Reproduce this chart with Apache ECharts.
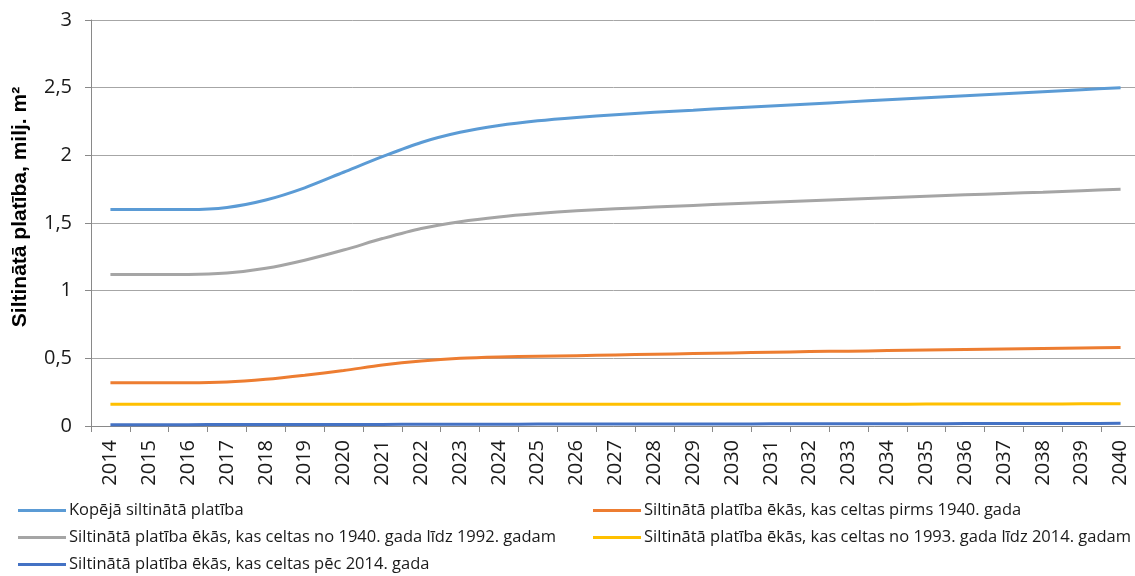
<!DOCTYPE html>
<html>
<head>
<meta charset="utf-8">
<script src="https://cdn.jsdelivr.net/npm/echarts@6/dist/echarts.min.js"></script>
<style>
  html, body { margin: 0; padding: 0; background: #fff; }
  #chart { width: 1135px; height: 576px; }
</style>
</head>
<body>
<div id="chart"></div>
<script>
// Years on the category axis
const years = ['2014','2015','2016','2017','2018','2019','2020','2021','2022','2023','2024','2025','2026','2027','2028','2029','2030','2031','2032','2033','2034','2035','2036','2037','2038','2039','2040'];

// Insulated floor area, million m²
const totalArea = [1.60,1.60,1.60,1.615,1.67,1.76,1.875,1.99,2.095,2.17,2.22,2.255,2.28,2.30,2.318,2.334,2.35,2.365,2.38,2.395,2.41,2.425,2.44,2.455,2.47,2.485,2.50];
const before1940 = [0.32,0.32,0.32,0.325,0.345,0.375,0.41,0.45,0.48,0.50,0.51,0.515,0.52,0.525,0.53,0.535,0.54,0.545,0.55,0.553,0.557,0.561,0.565,0.569,0.573,0.577,0.58];
const from1940to1992 = [1.12,1.12,1.12,1.13,1.165,1.225,1.30,1.385,1.46,1.51,1.545,1.57,1.59,1.605,1.618,1.63,1.642,1.654,1.665,1.676,1.687,1.698,1.708,1.718,1.728,1.739,1.75];
const from1993to2014 = [0.16,0.16,0.16,0.16,0.16,0.16,0.16,0.16,0.16,0.16,0.16,0.16,0.16,0.16,0.16,0.16,0.16,0.16,0.16,0.161,0.161,0.162,0.162,0.163,0.163,0.164,0.165];
const after2014 = [0.01,0.01,0.01,0.011,0.011,0.012,0.012,0.012,0.013,0.013,0.013,0.014,0.014,0.014,0.015,0.015,0.015,0.016,0.016,0.016,0.017,0.017,0.018,0.018,0.019,0.019,0.02];

// Y axis ticks
const yMin = 0, yMax = 3, yStep = 0.5;

const seriesDefs = [
  { name: 'Kopējā siltinātā platība', data: totalArea, color: '#5B9BD5' },
  { name: 'Siltinātā platība ēkās, kas celtas pirms 1940. gada', data: before1940, color: '#ED7D31' },
  { name: 'Siltinātā platība ēkās, kas celtas no 1940. gada līdz 1992. gadam', data: from1940to1992, color: '#A5A5A5' },
  { name: 'Siltinātā platība ēkās, kas celtas no 1993. gada līdz 2014. gadam', data: from1993to2014, color: '#FFC000' },
  { name: 'Siltinātā platība ēkās, kas celtas pēc 2014. gada', data: after2014, color: '#4472C4' }
];

// Legend slots: two columns, three rows
const legendSlots = [
  { left: 18, top: 502 },
  { left: 593, top: 502 },
  { left: 18, top: 529 },
  { left: 593, top: 529 },
  { left: 18, top: 556 }
];

const font = '"Open Sans", "Liberation Sans", Arial, sans-serif';

const chart = echarts.init(document.getElementById('chart'), null, { renderer: 'canvas' });

chart.setOption({
  animation: false,
  backgroundColor: '#ffffff',
  grid: { left: 91, right: -5, top: 20, bottom: 150, containLabel: false, outerBoundsMode: 'none' },
  legend: seriesDefs.map((s, i) => ({
    data: [s.name],
    left: legendSlots[i].left,
    top: legendSlots[i].top,
    icon: 'rect',
    itemWidth: 48,
    itemHeight: 3,
    itemGap: 0,
    padding: 0,
    textStyle: { fontFamily: font, fontSize: 16.5, color: '#1a1a1a', padding: [0, 0, 0, -2] }
  })),
  xAxis: {
    type: 'category',
    data: years,
    boundaryGap: true,
    axisLine: { lineStyle: { color: '#898989', width: 1 } },
    axisTick: { show: true, length: 6, lineStyle: { color: '#898989' } },
    axisLabel: { rotate: 90, margin: 14, fontFamily: font, fontSize: 20, color: '#1a1a1a' },
    splitLine: { show: false }
  },
  yAxis: {
    type: 'value',
    min: yMin,
    max: yMax,
    interval: yStep,
    name: 'Siltinātā platība, milj. m²',
    nameLocation: 'middle',
    nameGap: 60,
    nameRotate: 90,
    nameTextStyle: { fontFamily: '"Liberation Sans", Arial, sans-serif', fontSize: 21, fontWeight: 'bold', color: '#000', padding: [0, 0, 0, 32] },
    axisLine: { show: true, lineStyle: { color: '#898989', width: 1 } },
    axisTick: { show: true, length: 6, lineStyle: { color: '#898989' } },
    axisLabel: {
      margin: 19, fontFamily: font, fontSize: 20, color: '#1a1a1a',
      formatter: v => String(v).replace('.', ',')
    },
    splitLine: { show: true, lineStyle: { color: '#a6a6a6', width: 1 } }
  },
  series: seriesDefs.map(s => ({
    name: s.name,
    type: 'line',
    data: s.data,
    smooth: 0.3,
    showSymbol: false,
    symbol: 'none',
    lineStyle: { color: s.color, width: 3 },
    itemStyle: { color: s.color }
  }))
});
</script>
</body>
</html>
